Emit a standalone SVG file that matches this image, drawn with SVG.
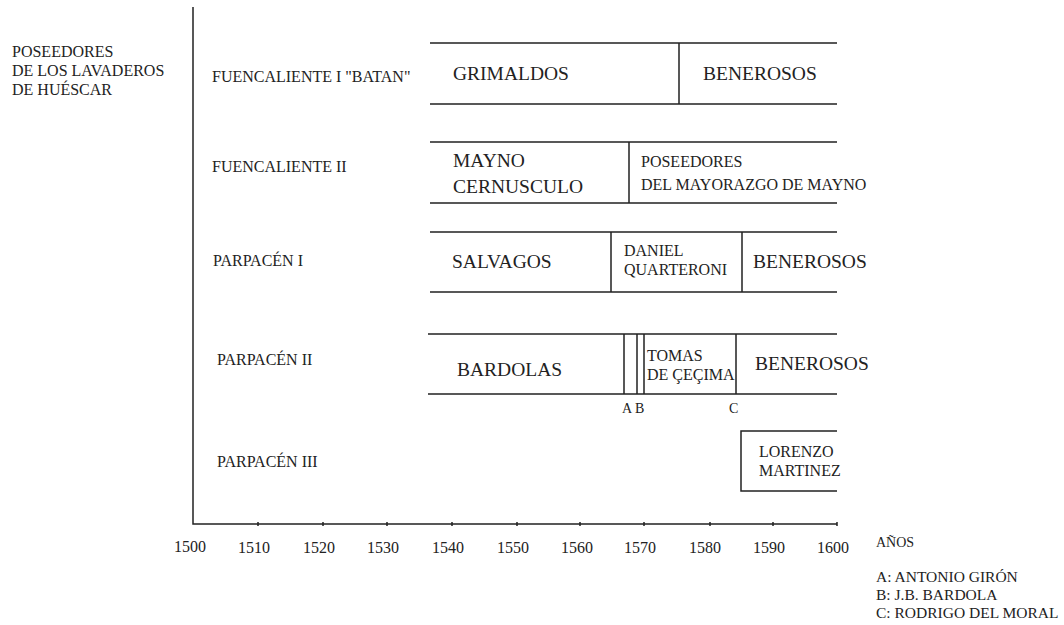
<svg xmlns="http://www.w3.org/2000/svg" width="1064" height="625" viewBox="0 0 1064 625" font-family="'Liberation Serif','Times New Roman',serif">
<style>
text{font-family:"Liberation Serif","Times New Roman",serif;fill:#222}
.lbl{font-family:"Liberation Serif",serif;font-size:16px}
.big{font-family:"Liberation Serif",serif;font-size:19.5px}
.mid{font-family:"Liberation Serif",serif;font-size:16px}
.sm{font-family:"Liberation Serif",serif;font-size:14px}
.tick{font-family:"Liberation Serif",serif;font-size:16px;text-anchor:middle}
.leg{font-family:"Liberation Serif",serif;font-size:15.5px}
.ln{stroke:#222;stroke-width:1.5;fill:none}
</style>
<rect width="1064" height="625" fill="#fff"/>
<g id="title">
<text class="lbl" x="12" y="57">POSEEDORES</text>
<text class="lbl" x="12" y="76">DE LOS LAVADEROS</text>
<text class="lbl" x="12" y="95">DE HUÉSCAR</text>
</g>
<g id="axes">
<path class="ln" d="M193 7V524H837"/>
<path class="ln" d="M258 522v4M323 522v4M387 522v4M452 522v4M517 522v4M580 522v4M644 522v4M710 522v4M773 522v4M837 522v4"/>
<text class="tick" x="190" y="552">1500</text>
<text class="tick" x="254" y="553">1510</text>
<text class="tick" x="319" y="553">1520</text>
<text class="tick" x="383" y="553">1530</text>
<text class="tick" x="448" y="553">1540</text>
<text class="tick" x="513" y="553">1550</text>
<text class="tick" x="577" y="553">1560</text>
<text class="tick" x="640" y="553">1570</text>
<text class="tick" x="705" y="553">1580</text>
<text class="tick" x="769" y="553">1590</text>
<text class="tick" x="833" y="553">1600</text>
<text class="sm" x="876" y="547">AÑOS</text>
</g>
<g id="row-fuencaliente-1">
<text class="lbl" x="212" y="82">FUENCALIENTE I "BATAN"</text>
<path class="ln" d="M430 43H837M430 104H837M679 43V104"/>
<text class="big" x="453" y="80">GRIMALDOS</text>
<text class="big" x="703" y="80">BENEROSOS</text>
</g>
<g id="row-fuencaliente-2">
<text class="lbl" x="212" y="172">FUENCALIENTE II</text>
<path class="ln" d="M430 142H837M430 203H837M629 142V203"/>
<text class="big" x="453" y="167">MAYNO</text>
<text class="big" x="453" y="193">CERNUSCULO</text>
<text class="mid" x="641" y="167">POSEEDORES</text>
<text class="mid" x="641" y="190">DEL MAYORAZGO DE MAYNO</text>
</g>
<g id="row-parpacen-1">
<text class="lbl" x="213" y="266">PARPACÉN I</text>
<path class="ln" d="M430 232H837M430 292H837M611 232V292M742 232V292"/>
<text class="big" x="452" y="268">SALVAGOS</text>
<text class="mid" x="624" y="256">DANIEL</text>
<text class="mid" x="624" y="275">QUARTERONI</text>
<text class="big" x="753" y="268">BENEROSOS</text>
</g>
<g id="row-parpacen-2">
<text class="lbl" x="217" y="365">PARPACÉN II</text>
<path class="ln" d="M428 334H837M428 394H837M624 334V394M637 334V394M644 334V394M736 334V394"/>
<text class="big" x="457" y="376">BARDOLAS</text>
<text class="mid" x="647" y="361">TOMAS</text>
<text class="mid" x="647" y="380">DE ÇEÇIMA</text>
<text class="big" x="755" y="370">BENEROSOS</text>
<text class="sm" x="622" y="413">A</text>
<text class="sm" x="635" y="413">B</text>
<text class="sm" x="729" y="413">C</text>
</g>
<g id="row-parpacen-3">
<text class="lbl" x="217" y="467">PARPACÉN III</text>
<path class="ln" d="M837 431H741V491H837"/>
<text class="mid" x="759" y="457">LORENZO</text>
<text class="mid" x="759" y="476">MARTINEZ</text>
</g>
<g id="legend">
<text class="leg" x="876" y="582">A: ANTONIO GIRÓN</text>
<text class="leg" x="876" y="600">B: J.B. BARDOLA</text>
<text class="leg" x="876" y="618">C: RODRIGO DEL MORAL</text>
</g>
</svg>
